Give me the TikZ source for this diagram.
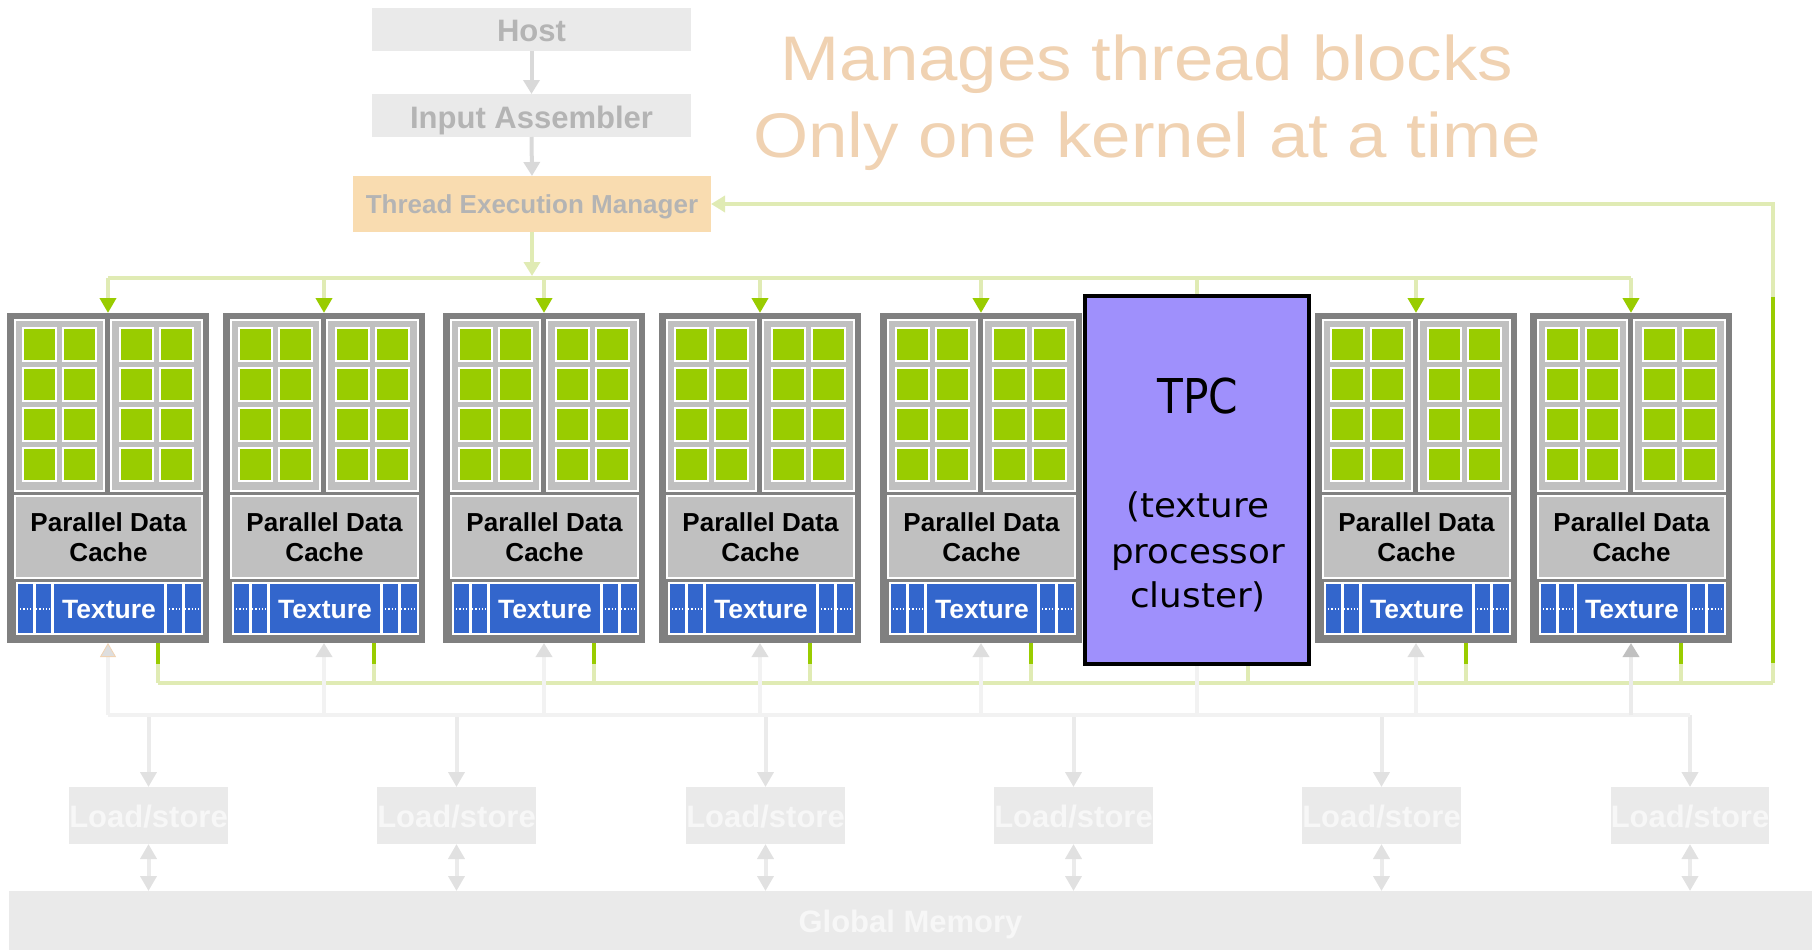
\documentclass[tikz,border=0pt]{standalone}
\usepackage{fontspec}
\usepackage{graphicx}
\setmainfont{Liberation Sans}
\newfontfamily\tpcfont{DejaVu Sans}
\usetikzlibrary{arrows.meta}
\definecolor{smgray}{HTML}{808080}
\definecolor{panelgray}{HTML}{C0C0C0}
\definecolor{sqgreen}{HTML}{99CC00}
\definecolor{texblue}{HTML}{3366CC}
\definecolor{lgreen}{HTML}{E0EBB4}
\definecolor{hostfill}{HTML}{EAEAEA}
\definecolor{hosttext}{HTML}{B4B4B4}
\definecolor{temfill}{HTML}{F9DCB0}
\definecolor{headc}{HTML}{F0D2B2}
\definecolor{tpcfill}{HTML}{9F90FC}
\definecolor{bustwo}{HTML}{F2F2F2}
\definecolor{arrgray}{HTML}{DEDEDE}
\definecolor{lsline}{HTML}{EBEBEB}
\definecolor{hostarrow}{HTML}{D9D9D9}
\definecolor{lstext}{HTML}{F7F7F7}
\begin{document}
\begin{tikzpicture}[x=1pt,y=-1pt,
  box/.style={inner sep=0pt, outer sep=0pt, draw=none},
  hostbox/.style={box, fill=hostfill, minimum width=319pt, minimum height=43pt, text=hosttext, text height=25pt, text depth=0pt, font=\fontsize{31}{36}\selectfont\bfseries},
  tembox/.style={box, fill=temfill, minimum width=358pt, minimum height=56pt, text=hosttext, text height=18pt, text depth=0pt, font=\fontsize{26}{30}\selectfont\bfseries},
  headline/.style={inner sep=0pt, text=headc, font=\fontsize{63}{70}\selectfont},
  smbox/.style={box, fill=smgray, minimum width=202pt, minimum height=330pt},
  panel/.style={fill=panelgray, draw=white, line width=1.5pt},
  sq/.style={fill=sqgreen, draw=white, line width=1.5pt},
  pdcbox/.style={box, fill=panelgray, draw=white, line width=1.5pt, minimum width=187pt, minimum height=82pt},
  pdctext/.style={inner sep=0pt, align=center, text=black, font=\fontsize{26}{30.5}\selectfont\bfseries},
  texcell/.style={fill=texblue, draw=white, line width=1.5pt},
  texmain/.style={box, fill=texblue, draw=white, line width=1.5pt, minimum width=112pt, minimum height=51pt, text=white, text height=19pt, text depth=0pt, font=\fontsize{26.5}{30}\selectfont\bfseries},
  dotline/.style={white, line width=1.2pt, dotted},
  tpcbox/.style={inner sep=0pt, fill=tpcfill, draw=black, line width=4pt, minimum width=224pt, minimum height=368pt},
  gbus/.style={lgreen, line width=4pt},
  dgline/.style={sqgreen, line width=4pt},
  gtip/.style={-{Triangle[width=16pt,length=15pt,color=sqgreen]}},
  ltip/.style={-{Triangle[width=16pt,length=14pt,color=lgreen]}},
  hostarr/.style={hostarrow, line width=4pt, -{Triangle[width=16pt,length=14pt]}},
  bline/.style={bustwo, line width=4pt},
  uparr/.style={bustwo, line width=4pt, -{Triangle[width=16pt,length=14pt,color=arrgray]}},
  lsarr/.style={lsline, line width=4pt, -{Triangle[width=16pt,length=15pt,color=arrgray!90!white]}},
  lsdbl/.style={lsline, line width=4pt, {Triangle[width=16pt,length=15pt,color=arrgray!90!white]}-{Triangle[width=16pt,length=15pt,color=arrgray!90!white]}},
  lsbox/.style={box, fill=hostfill, minimum width=157pt, minimum height=57pt, text=lstext, text height=23pt, text depth=0pt, font=\fontsize{31}{36}\selectfont\bfseries},
  gmbox/.style={box, fill=hostfill, minimum width=1803pt, minimum height=59pt, text=lstext, text height=23pt, text depth=0pt, font=\fontsize{31}{36}\selectfont\bfseries}
]
\useasboundingbox (0,0) rectangle (1812,950);

% top chain
\node[hostbox] (host) at (531.5,29.5) {Host};
\node[hostbox] (ia) at (531.5,115.5) {Input Assembler};
\node[tembox] (tem) at (532,204) {Thread Execution Manager};
\draw[hostarr] (host.south) -- (ia.north);
\draw[hostarr] (ia.south) -- (tem.north);

% headline
\node[headline, anchor=base] (h1) at (1147,81) {\scalebox{1.125}[1]{Manages thread blocks}};
\node[headline, anchor=base] (h2) at (1147,157) {\scalebox{1.125}[1]{Only one kernel at a time}};

% reference coordinates for buses
\coordinate (bus) at (0,278);
\coordinate (gbusy) at (0,683);
\coordinate (bus2) at (0,715);
\coordinate (gR) at (1773,683);

% SMs
\foreach \lx/\idx in {7/1,223/2,443/3,659/4,880/5,1315/7,1530/8}{
  \node[smbox] (sm\idx) at (\lx+101,478) {};
  \filldraw[panel] (\lx+8,320) rectangle (\lx+97,491);
  \filldraw[panel] (\lx+104,320) rectangle (\lx+195,491);
  \foreach \cx in {16,56,113,153}{
    \foreach \ry in {328,368,408,448}{
      \filldraw[sq] (\lx+\cx,\ry) rectangle ++(33,33);
    }
  }
  \node[pdcbox] (pdc\idx) at (\lx+101.5,537) {};
  \node[pdctext] at (\lx+101.5,537) {Parallel Data\\Cache};
  \filldraw[texcell] (\lx+10,583) rectangle (\lx+27,634);
  \filldraw[texcell] (\lx+28,583) rectangle (\lx+45,634);
  \filldraw[texcell] (\lx+159,583) rectangle (\lx+176,634);
  \filldraw[texcell] (\lx+177,583) rectangle (\lx+195,634);
  \node[texmain] (tex\idx) at (\lx+102,608.5) {Texture};
  \draw[dotline] (\lx+10,609) -- (\lx+45,609);
  \draw[dotline] (\lx+159,609) -- (\lx+195,609);
  % drop from top bus
  \draw[gbus, gtip] (sm\idx.north |- bus) -- (sm\idx.north);
  % green return stub
  \draw[gbus] ([xshift=151pt]sm\idx.south west) -- ([xshift=151pt]sm\idx.south west |- gbusy);
  \draw[dgline] ([xshift=151pt]sm\idx.south west) -- ++(0,21);
}

% TPC
\node[tpcbox] (tpc) at (1197,480) {};
\node[anchor=base, inner sep=0pt] (tpct) at (1198,413) {\tpcfont\fontsize{48}{48}\selectfont\scalebox{0.88}[1]{TPC}};
\node[anchor=base, inner sep=0pt] (tpc1) at (1198,517) {\tpcfont\fontsize{34}{34}\selectfont\scalebox{1.05}[1]{(texture}};
\node[anchor=base, inner sep=0pt] (tpc2) at (1198,563) {\tpcfont\fontsize{34}{34}\selectfont\scalebox{1.05}[1]{processor}};
\node[anchor=base, inner sep=0pt] (tpc3) at (1198,607) {\tpcfont\fontsize{34}{34}\selectfont\scalebox{1.05}[1]{cluster)}};
\draw[gbus] (tpc.north) -- (tpc.north |- bus);
\draw[gbus] ([xshift=51pt]tpc.south) -- ([xshift=51pt]tpc.south |- gbusy);

% top green bus and TEM link
\draw[gbus] (sm1.north |- bus) -- (sm8.north |- bus);
\draw[gbus, ltip, shorten >=2pt] (tem.south) -- (tem.south |- bus);

% bottom green bus and feedback
\draw[gbus] ([xshift=151pt]sm1.south west |- gbusy) -- (gR);
\draw[gbus, ltip] (gR) |- (tem.east);
\draw[dgline] (1773,297) -- (1773,663);

% load/store and global memory
\node[gmbox] (gm) at (910.5,920.5) {Global Memory};
\foreach \x/\i in {148.5/1,456.5/2,765.5/3,1073.5/4,1381.5/5,1690/6}{
  \node[lsbox] (ls\i) at (\x,815.5) {Load/store};
  \draw[lsarr] (ls\i.north |- bus2) -- (ls\i.north);
  \draw[lsdbl] (ls\i.south) -- (ls\i.south |- gm.north);
}
\draw[bline] (sm1.south |- bus2) -- (ls6.north |- bus2);
\foreach \idx in {2,3,4,5,7}{
  \draw[uparr] (sm\idx.south |- bus2) -- (sm\idx.south);
}
\draw[bustwo, line width=4pt, -{Triangle[width=16pt,length=14pt,color=headc,fill=arrgray,line width=0.8pt]}] (sm1.south |- bus2) -- (sm1.south);
\draw[lsline, line width=4pt, -{Triangle[width=16pt,length=14pt,color=panelgray]}] (sm8.south |- bus2) -- (sm8.south);
\draw[bline] (tpc.south) -- (tpc.south |- bus2);
\end{tikzpicture}
\end{document}
